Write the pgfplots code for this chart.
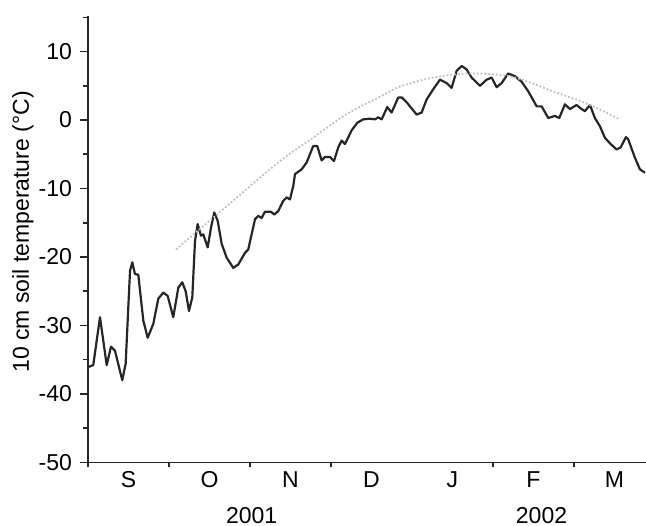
\documentclass[border=0pt]{standalone}
\usepackage{pgfplots}
\pgfplotsset{compat=1.18}
\usepackage{fontspec}
\setmainfont{Liberation Sans}
\begin{document}
\fontsize{11.5bp}{13bp}\selectfont
\begin{tikzpicture}
\begin{axis}[
  name=ax,
  scale only axis,
  width=279bp, height=223.15bp,
  xmin=0, xmax=6.89, ymin=-50, ymax=15.2,
  axis x line*=bottom, axis y line*=left,
  axis line style={-, line width=0.8bp, black!85},
  tick style={line width=0.8bp, black!85},
  tick align=outside,
  major tick length=4bp, minor tick length=2.5bp,
  ytick={-50,-40,-30,-20,-10,0,10},
  minor ytick={-45,-35,-25,-15,-5,5,15},
  xtick={0.5,1.5,2.5,3.5,4.5,5.5,6.5},
  xticklabels={S,O,N,D,J,F,M},
  every major x tick/.append style={draw=none},
  minor xtick={0,1,2,3,5,6},
  extra x ticks={4},
  extra x tick labels={},
  extra tick style={major tick length=7.5bp},
  xticklabel style={yshift=3.5bp},
  /pgf/number format/assume math mode=true,
  tick label style={font=\fontsize{11.5bp}{13bp}\selectfont},
  label style={font=\fontsize{11.5bp}{13bp}\selectfont},
  ylabel={10 cm soil temperature (°C)},
  ylabel style={at={(axis description cs:-0.1165,0.516)}, anchor=center},
  clip=false,
]
\addplot[black!85, line width=1.1bp, line join=round] coordinates {
(0,-36.1) (0.065,-35.8) (0.148,-28.8) (0.231,-35.8) (0.284,-33.1) (0.333,-33.7)
(0.423,-38.0) (0.465,-35.6) (0.519,-22.0) (0.547,-20.8) (0.580,-22.5) (0.621,-22.6)
(0.683,-29.3) (0.737,-31.8) (0.806,-29.8) (0.868,-26.1) (0.930,-25.2) (0.984,-25.7)
(1.053,-28.8) (1.115,-24.5) (1.164,-23.7) (1.206,-25.0) (1.247,-27.9) (1.288,-25.9)
(1.321,-17.7) (1.354,-15.2) (1.395,-16.9) (1.423,-16.7) (1.478,-18.6) (1.519,-15.7)
(1.559,-13.5) (1.601,-14.7) (1.651,-18.1) (1.712,-20.1) (1.794,-21.6) (1.856,-21.1)
(1.938,-19.4) (1.979,-18.9) (2.062,-14.5) (2.102,-14.0) (2.144,-14.3) (2.185,-13.4)
(2.259,-13.4) (2.300,-13.8) (2.349,-13.3) (2.411,-11.8) (2.453,-11.3) (2.494,-11.6)
(2.535,-9.6) (2.556,-7.9) (2.638,-7.2) (2.700,-6.2) (2.781,-3.8) (2.831,-3.8)
(2.885,-5.9) (2.926,-5.4) (2.988,-5.4) (3.037,-6.0) (3.090,-4.0) (3.132,-3.0)
(3.173,-3.5) (3.256,-1.5) (3.325,-0.4) (3.399,0.1) (3.481,0.2) (3.543,0.1)
(3.584,0.4) (3.626,0.1) (3.695,1.9) (3.749,1.1) (3.831,3.3) (3.873,3.3)
(3.935,2.6) (3.975,2.0) (4.058,0.8) (4.120,1.1) (4.181,3.0) (4.263,4.5)
(4.346,5.9) (4.428,5.4) (4.490,4.7) (4.552,7.2) (4.614,7.9) (4.675,7.4)
(4.737,6.2) (4.840,5.0) (4.922,5.9) (4.984,6.2) (5.046,4.8) (5.107,5.4)
(5.189,6.8) (5.272,6.4) (5.354,5.6) (5.436,4.2) (5.540,2.0) (5.601,2.0)
(5.683,0.3) (5.765,0.6) (5.819,0.3) (5.889,2.3) (5.951,1.6) (6.033,2.2)
(6.095,1.6) (6.136,1.3) (6.198,2.2) (6.259,0.3) (6.321,-0.9) (6.383,-2.6)
(6.453,-3.5) (6.527,-4.3) (6.577,-4.0) (6.642,-2.5) (6.670,-2.8) (6.753,-5.5)
(6.815,-7.2) (6.877,-7.7)
};
\addplot[black!25, line width=0.9bp, densely dotted, smooth] coordinates {
(1.086,-18.9) (1.790,-11.8) (2.370,-6.0) (2.778,-2.6) (3.198,0.9) (3.605,3.4)
(3.852,4.9) (4.259,6.2) (4.679,6.8) (5.086,6.6) (5.333,6.0) (5.741,4.2)
(6.160,2.4) (6.568,0.1)
};
\node at (axis cs:2.02,-50) [yshift=-26.5bp] {2001};
\node at (axis cs:5.6,-50) [yshift=-26.5bp] {2002};
\end{axis}
\pgfresetboundingbox
\path[use as bounding box] ([xshift=-44bp,yshift=-31.85bp]ax.south west) rectangle ([yshift=8bp]ax.north east);
\end{tikzpicture}
\end{document}
